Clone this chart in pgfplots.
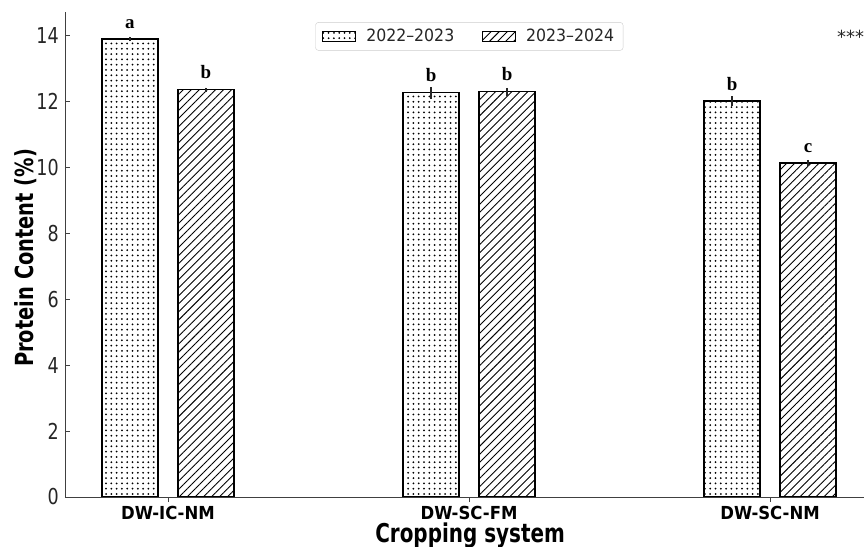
\documentclass[border=0pt]{standalone}
\usepackage{fontspec}
\setmainfont{DejaVu Sans}
\newfontfamily\serifb{Liberation Serif}
\usepackage{graphicx}
\usepackage{pgfplots}
\pgfplotsset{compat=1.18}
\usepackage{pgfplotstable}
\usetikzlibrary{patterns.meta}

\pgfplotstableread{
x y e lab
0 13.88 0.07 a
1 12.25 0.18 b
2 12.00 0.15 b
}\tA
\pgfplotstableread{
x y e lab
0 12.35 0.06 b
1 12.28 0.12 b
2 10.12 0.10 c
}\tB

\newcommand\sq[2]{\scalebox{#1}[1]{#2}}

\begin{document}
\begin{tikzpicture}
\begin{axis}[
  scale only axis, width=799bp, height=485bp,
  at={(0,0)}, anchor=south west,
  xmin=-0.342, xmax=2.312, ymin=0, ymax=14.7,
  axis lines*=left,
  axis line style={black!75, line width=0.9bp},
  tick align=inside, major tick length=5bp,
  tick style={black!75, line width=0.9bp},
  ytick={0,2,...,14},
  yticklabel={\sq{0.8}{\pgfmathprintnumber[assume math mode=true]{\tick}}},
  yticklabel style={font=\fontsize{22}{22}\selectfont, anchor=east, inner sep=0pt, xshift=-6bp, text=black!85},
  xtick={0,1,2},
  xticklabels={\sq{0.92}{DW-IC-NM},\sq{0.92}{DW-SC-FM},\sq{0.92}{DW-SC-NM}},
  xticklabel style={font=\bfseries\fontsize{18}{18}\selectfont, anchor=base, yshift=-17bp, inner sep=0pt},
  xlabel={\sq{0.77}{Cropping system}},
  xlabel style={font=\bfseries\fontsize{26}{26}\selectfont, at={(axis description cs:0.507,-0.0948)}, anchor=base, inner sep=0pt},
  ylabel={\sq{0.78}{Protein Content (\%)}},
  ylabel style={font=\bfseries\fontsize{25}{25}\selectfont, at={(axis description cs:-0.040,0.493)}, anchor=base, inner sep=0pt},
  ybar, bar width=56bp,
  error bars/y dir=both, error bars/y explicit,
  error bars/error mark=none,
  error bars/error bar style={line width=1.4bp, black!85},
  nodes near coords, point meta=explicit symbolic,
  nodes near coords style={font=\serifb\bfseries\fontsize{19}{19}\selectfont, anchor=base, yshift=11bp, text=black},
  legend image code/.code={\draw[#1, sharp corners, line width=0.8bp] (0bp,-5bp) rectangle (33bp,5bp);},
  legend style={at={(0.506,0.979)}, anchor=north, draw=black!20, rounded corners=3bp,
    font=\fontsize{17}{17}\selectfont, text=black!85, inner xsep=7bp, inner ysep=5bp,
    /tikz/every odd column/.append style={column sep=8bp},
    /tikz/every even column/.append style={column sep=26bp}},
  legend columns=2,
]
\addplot[bar shift=-38bp, draw=black, line width=1.3bp, fill=white,
  postaction={pattern={Dots[distance=5.3bp, radius=1bp]}, pattern color=black}]
  table[x=x, y=y, y error=e, meta=lab] {\tA};
\addlegendentry{\sq{0.93}{2022--2023}}
\addplot[bar shift=38bp, draw=black, line width=1.3bp, fill=white,
  postaction={pattern={Lines[angle=45, distance=5.7bp, line width=0.9bp]}, pattern color=black}]
  table[x=x, y=y, y error=e, meta=lab] {\tB};
\addlegendentry{\sq{0.93}{2023--2024}}
\node[anchor=base west, inner sep=0pt, font=\fontsize{18}{18}\selectfont, text=black!85] at (axis cs:2.222,13.73) {***};
\end{axis}
\pgfresetboundingbox
\path[use as bounding box] (-65bp,-50bp) rectangle (799bp,497bp);
\end{tikzpicture}
\end{document}
